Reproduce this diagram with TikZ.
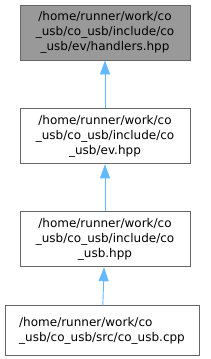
\documentclass[tikz,border=0pt]{standalone}
\usepackage{fontspec}
\setmainfont{DejaVu Sans}
\usepackage{xcolor}
\usetikzlibrary{arrows.meta,positioning}
\definecolor{edgeblue}{HTML}{63B8FF}
\definecolor{boxgray}{HTML}{999999}
\definecolor{linegray}{HTML}{666666}

\begin{document}
\begin{tikzpicture}[
    x=1pt, y=1pt,
    node distance=47pt,
    file/.style={rectangle, draw=linegray, fill=white, line width=0.9pt, align=center, minimum height=55pt, minimum width=170pt, inner sep=0pt, font=\fontsize{12}{15}\selectfont},
    curfile/.style={file, fill=boxgray},
    arrow/.style={{Triangle[length=14pt, width=10pt]}-, draw=edgeblue, line width=0.9pt}
]
    \useasboundingbox (0,0) rectangle (211,-359);
    \node [curfile] (handlers) at (105,-32.5) {/home/runner/work/co\\\_usb/co\_usb/include/co\\\_usb/ev/handlers.hpp};
    \node [file, below=48pt of handlers] (ev) {/home/runner/work/co\\\_usb/co\_usb/include/co\\\_usb/ev.hpp};
    \node [file, below=of ev] (cousb) {/home/runner/work/co\\\_usb/co\_usb/include/co\\\_usb.hpp};
    \node [file, below=38pt of cousb, xshift=-3pt, minimum width=194pt, minimum height=50pt, align=left] (cousbcpp) {/home/runner/work/co\\\_usb/co\_usb/src/co\_usb.cpp};

    \draw [arrow] (handlers) -- (ev);
    \draw [arrow] (ev) -- (cousb);
    \draw [arrow] (cousb) -- (cousbcpp);
\end{tikzpicture}
\end{document}
